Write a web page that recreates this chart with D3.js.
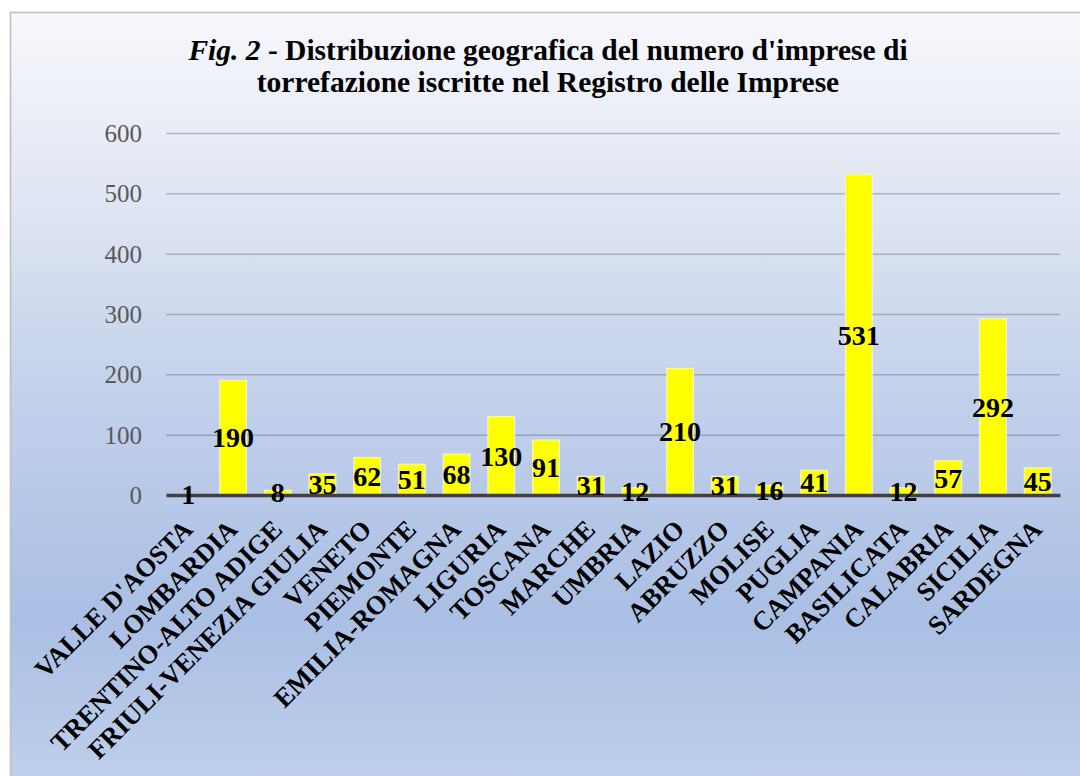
<!DOCTYPE html>
<html>
<head>
<meta charset="utf-8">
<script src="https://cdn.jsdelivr.net/npm/d3@7/dist/d3.min.js"></script>
<style>
  html, body { margin: 0; padding: 0; background: #ffffff; }
  svg { display: block; }
</style>
</head>
<body>
<div id="chart"></div>
<script>
// Regions (Italian), number of registered coffee-roasting businesses
const regions = [
  "VALLE D'AOSTA", "LOMBARDIA", "TRENTINO-ALTO ADIGE", "FRIULI-VENEZIA GIULIA",
  "VENETO", "PIEMONTE", "EMILIA-ROMAGNA", "LIGURIA", "TOSCANA", "MARCHE",
  "UMBRIA", "LAZIO", "ABRUZZO", "MOLISE", "PUGLIA", "CAMPANIA", "BASILICATA",
  "CALABRIA", "SICILIA", "SARDEGNA"
];
const imprese = [1, 190, 8, 35, 62, 51, 68, 130, 91, 31, 12, 210, 31, 16, 41, 531, 12, 57, 292, 45];
const yTicks = [0, 100, 200, 300, 400, 500, 600];
const titleLine1Italic = "Fig. 2";
const titleLine1Rest = " - Distribuzione geografica del numero d'imprese di";
const titleLine2 = "torrefazione iscritte nel Registro delle Imprese";

const W = 1080, H = 776;
const serif = "'Liberation Serif', 'Times New Roman', Times, serif";

const svg = d3.select("#chart").append("svg")
  .attr("width", W).attr("height", H);

// Background panel with vertical gradient
const defs = svg.append("defs");
const grad = defs.append("linearGradient")
  .attr("id", "bg").attr("x1", 0).attr("y1", 0).attr("x2", 0).attr("y2", 1);
[["0%", "#f7f8fc"], ["20%", "#e4e9f4"], ["50%", "#c2d0eb"], ["78%", "#aabfe4"], ["100%", "#c0d0eb"]]
  .forEach(([o, c]) => grad.append("stop").attr("offset", o).attr("stop-color", c));

svg.append("rect")
  .attr("x", 10.5).attr("y", 12.5)
  .attr("width", W).attr("height", H)
  .attr("fill", "url(#bg)")
  .attr("stroke", "#bdbdbd").attr("stroke-width", 1.5);

// Plot area
const plot = { left: 166, right: 1060, top: 133, bottom: 495 };

const x = d3.scaleBand()
  .domain(regions)
  .range([plot.left, plot.right])
  .paddingInner(0.4)
  .paddingOuter(0.2);

const y = d3.scaleLinear()
  .domain([0, 600])
  .range([plot.bottom, plot.top]);

// Title (two centred lines)
const titleX = 548;
const title = svg.append("text")
  .attr("x", titleX).attr("y", 60)
  .attr("text-anchor", "middle")
  .attr("font-family", serif)
  .attr("font-size", 29.5)
  .attr("font-weight", "bold")
  .attr("fill", "#000");
title.append("tspan").attr("font-style", "italic").text(titleLine1Italic);
title.append("tspan").text(titleLine1Rest);

svg.append("text")
  .attr("x", titleX).attr("y", 92)
  .attr("text-anchor", "middle")
  .attr("font-family", serif)
  .attr("font-size", 29.5)
  .attr("font-weight", "bold")
  .attr("fill", "#000")
  .text(titleLine2);

// Horizontal gridlines and y tick labels
const yAxis = d3.axisLeft(y)
  .tickValues(yTicks)
  .tickSize(-(plot.right - plot.left))
  .tickPadding(24)
  .tickFormat(d3.format("d"));

const gy = svg.append("g")
  .attr("transform", `translate(${plot.left},0)`)
  .call(yAxis);
gy.select(".domain").remove();
gy.selectAll(".tick line")
  .attr("stroke", "#3c4048")
  .attr("stroke-opacity", 0.3)
  .attr("stroke-width", 1.5);
gy.selectAll(".tick text")
  .attr("font-family", serif)
  .attr("font-size", 25)
  .attr("fill", "#595959")
  .attr("dy", "0.34em");

// Bars
svg.append("g").selectAll("rect")
  .data(imprese)
  .join("rect")
  .attr("x", (d, i) => x(regions[i]))
  .attr("y", d => y(d))
  .attr("width", x.bandwidth())
  .attr("height", d => y(0) - y(d))
  .attr("fill", "#ffff00")
  .attr("stroke", "#f2f2f2")
  .attr("stroke-width", 1);

// Category axis baseline
const xAxis = d3.axisBottom(x).tickSize(0).tickFormat("");
const gx = svg.append("g")
  .attr("transform", `translate(0,${plot.bottom})`)
  .call(xAxis);
gx.select(".domain")
  .attr("stroke", "#404040")
  .attr("stroke-width", 3.5);

// Rotated category labels
svg.append("g").selectAll("text")
  .data(regions)
  .join("text")
  .attr("transform", d => `translate(${x(d) + x.bandwidth() / 2 + 6},${plot.bottom + 36}) rotate(-45)`)
  .attr("text-anchor", "end")
  .attr("font-family", serif)
  .attr("font-size", 26.5)
  .attr("font-weight", "bold")
  .attr("fill", "#000")
  .text(d => d);

// Value labels, centred in each bar
svg.append("g").selectAll("text")
  .data(imprese)
  .join("text")
  .attr("x", (d, i) => x(regions[i]) + x.bandwidth() / 2)
  .attr("y", d => (y(d) + y(0)) / 2)
  .attr("dy", "0.35em")
  .attr("text-anchor", "middle")
  .attr("font-family", serif)
  .attr("font-size", 28)
  .attr("font-weight", "bold")
  .attr("fill", "#000")
  .text(d => d);
</script>
</body>
</html>
